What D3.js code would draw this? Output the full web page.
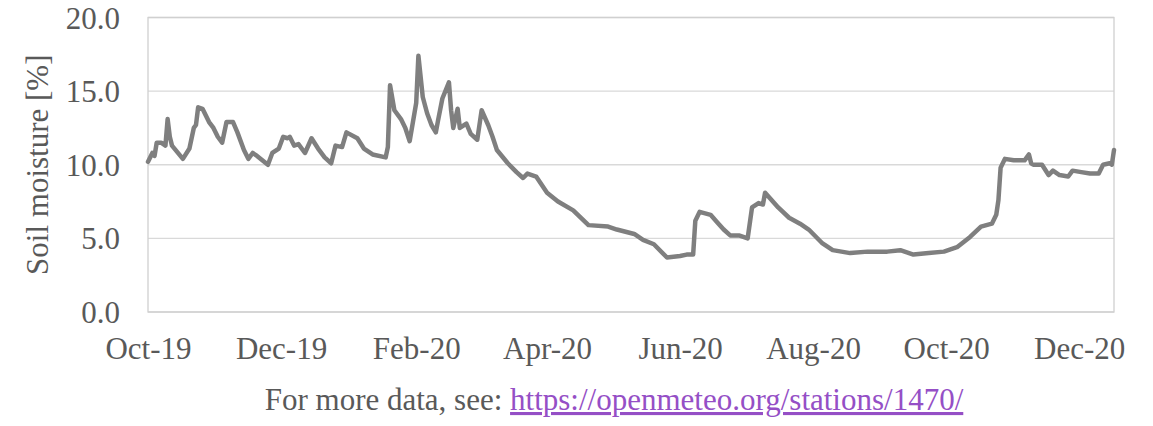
<!DOCTYPE html>
<html>
<head>
<meta charset="utf-8">
<script src="https://cdn.jsdelivr.net/npm/d3@7"></script>
<style>
  body { margin: 0; background: #fff; }
  svg { display: block; }
  .tick text { font-family: "Liberation Serif", "Times New Roman", serif; fill: #595959; }
</style>
</head>
<body>
<div class="container"></div>
<script>
// daily soil moisture record, start of series + day offsets
var startDate = new Date(2019, 9, 1),
    endDate = new Date(2020, 11, 17);

var days = [0,2,3,4,6,8,9,10,11,16,19,21,22,23,25,28,30,32,34,36,39,41,44,46,48,50,55,57,60,62,
    64,65,67,69,72,75,78,81,84,86,89,91,96,99,103,109,110,111,113,116,118,120,123,124,126,128,130,
    132,133,135,138,139,140,142,143,146,148,151,153,156,158,160,165,169,172,174,178,183,188,195,
    202,211,215,223,227,232,238,244,247,250,251,253,258,261,264,267,271,275,277,280,282,283,289,
    294,299,303,309,314,322,330,339,345,351,358,365,371,377,382,387,389,390,391,393,397,402,404,
    405,406,410,413,415,418,422,424,428,432,436,438,441,442,443];

var moisture = [10.2,10.8,10.6,11.5,11.5,11.3,13.1,11.9,11.3,10.4,11.1,12.5,12.7,13.9,13.8,12.9,12.5,
    11.9,11.5,12.9,12.9,12.2,11.0,10.4,10.8,10.6,10.0,10.8,11.1,11.9,11.8,11.9,11.3,11.4,10.8,11.8,
    11.1,10.5,10.1,11.3,11.2,12.2,11.8,11.1,10.7,10.5,11.2,15.4,13.7,13.1,12.5,11.6,14.2,17.4,14.6,
    13.5,12.7,12.2,13.0,14.5,15.6,13.7,12.5,13.8,12.5,12.8,12.1,11.7,13.7,12.7,11.9,11.0,10.1,9.5,
    9.1,9.4,9.2,8.1,7.5,6.9,5.9,5.8,5.6,5.3,4.9,4.6,3.7,3.8,3.9,3.9,6.2,6.8,6.6,6.1,5.6,5.2,5.2,
    5.0,7.1,7.4,7.3,8.1,7.1,6.4,6.0,5.6,4.7,4.2,4.0,4.1,4.1,4.2,3.9,4.0,4.1,4.4,5.1,5.8,6.0,6.6,
    7.6,9.8,10.4,10.3,10.3,10.7,10.1,10.0,10.0,9.3,9.6,9.3,9.2,9.6,9.5,9.4,9.4,10.0,10.1,10.0,11.0];

var yTicks = [0, 5, 10, 15, 20];
// every second month, starting Oct-19
var xTicks = d3.timeMonth.range(startDate, d3.timeDay.offset(endDate, 1))
    .filter(function(d, i) { return i % 2 === 0; });
var yTitle = "Soil moisture [%]";
var noteText = "For more data, see: ",
    noteLink = "https://openmeteo.org/stations/1470/";

var margin = {top: 17.5, right: 39, bottom: 114, left: 148},
    W = 1153, H = 426,
    width = W - margin.left - margin.right,
    height = H - margin.top - margin.bottom,
    fontSize = "31px";

var svg = d3.select("div.container").append("svg")
    .attr("width", W)
    .attr("height", H);

var g = svg.append("g")
    .attr("transform", "translate(" + margin.left + "," + margin.top + ")");

var x = d3.scaleTime().domain([startDate, endDate]).range([0, width]);
var y = d3.scaleLinear().domain([0, 20]).range([height, 0]);

var data = days.map(function(d, i) {
    return {date: d3.timeDay.offset(startDate, d), value: moisture[i]};
});

// gridlines
g.append("g")
    .selectAll("line")
    .data(yTicks)
    .enter().append("line")
    .attr("x1", 0).attr("x2", width)
    .attr("y1", function(d) { return y(d); })
    .attr("y2", function(d) { return y(d); })
    .attr("stroke", "#d9d9d9")
    .attr("stroke-width", 1.3);

// plot frame
g.append("rect")
    .attr("width", width).attr("height", height)
    .attr("fill", "none")
    .attr("stroke", "#d0d0d0")
    .attr("stroke-width", 1.3);

var yAxis = g.append("g")
    .call(d3.axisLeft(y).tickValues(yTicks).tickFormat(d3.format(".1f")).tickSize(0).tickPadding(28));
yAxis.select(".domain").remove();
yAxis.selectAll("text").style("font-size", fontSize).attr("dy", "0.34em");

var xAxis = g.append("g")
    .attr("transform", "translate(0," + height + ")")
    .call(d3.axisBottom(x).tickValues(xTicks).tickFormat(d3.timeFormat("%b-%y")).tickSize(0).tickPadding(25));
xAxis.select(".domain").remove();
xAxis.selectAll("text").style("font-size", fontSize);

var line = d3.line()
    .x(function(d) { return x(d.date); })
    .y(function(d) { return y(d.value); });

g.append("path")
    .datum(data)
    .attr("d", line)
    .attr("fill", "none")
    .attr("stroke", "#7f7f7f")
    .attr("stroke-width", 4.5)
    .attr("stroke-linejoin", "round")
    .attr("stroke-linecap", "round");

// axis title
svg.append("text")
    .attr("transform", "translate(48," + (margin.top + height / 2) + ") rotate(-90)")
    .attr("text-anchor", "middle")
    .style("font-family", "'Liberation Serif', 'Times New Roman', serif")
    .style("font-size", fontSize)
    .attr("fill", "#595959")
    .text(yTitle);

// footer note with link
var note = svg.append("text")
    .attr("x", 614).attr("y", 410)
    .attr("text-anchor", "middle")
    .style("font-family", "'Liberation Serif', 'Times New Roman', serif")
    .style("font-size", fontSize)
    .attr("fill", "#595959");
note.append("tspan").text(noteText);
note.append("tspan")
    .attr("fill", "#954fc6")
    .style("text-decoration", "underline")
    .text(noteLink);
</script>
</body>
</html>
